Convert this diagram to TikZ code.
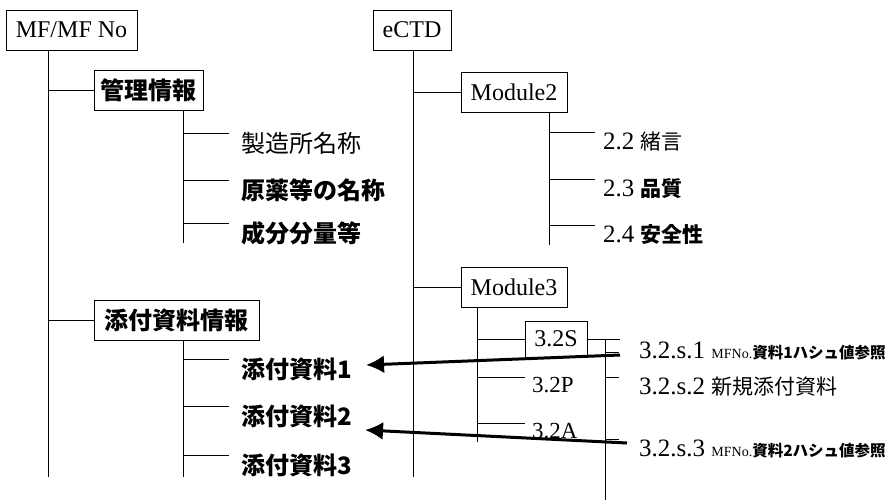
\documentclass[tikz,border=0pt]{standalone}
\usepackage{fontspec}
\setmainfont{Liberation Serif}
\newfontfamily\jp{Noto Sans CJK JP}
\usepackage{tikz}
\usetikzlibrary{arrows.meta}
\newcommand{\jpL}{\jp\fontsize{24}{26}\selectfont}
\newcommand{\jpR}{\jp\fontsize{21}{23}\selectfont}
\newcommand{\jpS}{\jp\fontsize{15.5}{17}\selectfont}
\tikzstyle{box} = [rectangle, minimum height=40pt, inner sep=0pt, text centered, draw=black, line width=0.9pt, font=\fontsize{24}{26}\selectfont]
\tikzstyle{itemL} = [anchor=west, inner sep=0pt, text height=18pt, text depth=4pt]
\tikzstyle{itemR} = [anchor=west, inner sep=0pt, text height=16pt, text depth=4pt, font=\fontsize{25}{27}\selectfont]
\tikzstyle{itemS} = [anchor=west, inner sep=0pt, text height=15pt, text depth=4pt, font=\fontsize{23}{25}\selectfont]
\tikzstyle{line} = [line width=0.9pt]
\tikzstyle{arrow} = [line width=3pt,-{Latex[length=18pt,width=18pt]}]

\begin{document}
\begin{tikzpicture}[x=1pt,y=-1pt]
							\useasboundingbox (0,0) rectangle (890,503);
							\node (mf) at (71.5,30) [box, minimum width=131pt] {MF/MF No};
							\node (kanri) at (148.5,90) [box, minimum width=109pt] {\jpL\bfseries 管理情報};
							\node (tenpu) at (176.5,320) [box, minimum width=165pt] {\jpL\bfseries 添付資料情報};
							\coordinate (mfend) at (48,477);
							\coordinate (kanriend) at (183,243);
							\coordinate (tenpuend) at (183,477);
							\node (k1) at (241,145) [itemL] {\jpL 製造所名称};
							\node (k2) at (241,192) [itemL] {\jpL\bfseries 原薬等の名称};
							\node (k3) at (241,235) [itemL] {\jpL\bfseries 成分分量等};
							\node (t1) at (241,371) [itemL] {\jpL\bfseries 添付資料1};
							\node (t2) at (241,418) [itemL] {\jpL\bfseries 添付資料2};
							\node (t3) at (241,467) [itemL] {\jpL\bfseries 添付資料3};
							\draw[line] (mfend |- mf.south) -- (mfend);
							\draw[line] (mfend |- kanri.west) -- (kanri.west);
							\draw[line] (mfend |- tenpu.west) -- (tenpu.west);
							\draw[line] (kanriend |- kanri.south) -- (kanriend);
							\draw[line] (tenpuend |- tenpu.south) -- (tenpuend);
							\foreach \n in {k1,k2,k3} \draw[line] (kanriend |- \n.north west) -- ([xshift=-12pt]\n.north west);
							\foreach \n in {t1,t2,t3} \draw[line] (tenpuend |- \n.north west) -- ([xshift=-12pt]\n.north west);
							
							\node (ectd) at (412,30) [box, minimum width=78pt] {eCTD};
							\node (mod2) at (514,92) [box, minimum width=106pt] {Module2};
							\node (mod3) at (514,287.5) [box, minimum width=106pt] {Module3};
							\node (s32) at (556,339) [box, minimum width=62pt, minimum height=36pt] {3.2S};
							\coordinate (ectdend) at (413,477);
							\coordinate (mod2end) at (549,245);
							\coordinate (mod3end) at (477,442);
							\coordinate (s32end) at (605,500);
							\node (m1) at (603,143) [itemR] {2.2 {\jpR 緒言}};
							\node (m2) at (603,190) [itemR] {2.3 {\jpR\bfseries 品質}};
							\node (m3) at (603,236) [itemR] {2.4 {\jpR\bfseries 安全性}};
							\node (p32) at (532,387) [itemS] {3.2P};
							\node (a32) at (532,433) [itemS] {3.2A};
							\node (s1) at (639,352) [itemR] {3.2.s.1 {\fontsize{14}{15}\selectfont MFNo.}{\jpS\bfseries 資料1ハシュ値参照}};
							\node (s2) at (639,388) [itemR] {3.2.s.2 {\jpR 新規添付資料}};
							\node (s3) at (639,450) [itemR] {3.2.s.3 {\fontsize{14}{15}\selectfont MFNo.}{\jpS\bfseries 資料2ハシュ値参照}};
							\coordinate (s1in) at ([xshift=-19pt]s1.west);
							\draw[line] (ectdend |- ectd.south) -- (ectdend);
							\draw[line] (ectdend |- mod2.west) -- (mod2.west);
							\draw[line] (ectdend |- mod3.west) -- (mod3.west);
							\draw[line] (mod2end |- mod2.south) -- (mod2end);
							\foreach \n in {m1,m2,m3} \draw[line] (mod2end |- \n.north west) -- ([xshift=-8pt]\n.north west);
							\draw[line] (mod3end |- mod3.south) -- (mod3end);
							\draw[line] (mod3end |- s32.west) -- (s32.west);
							\foreach \n in {p32,a32} \draw[line] (mod3end |- \n.north west) -- ([xshift=-7pt]\n.north west);
							\draw[line] (s32.east) -- (s1in |- s32.east);
							\draw[line] (s32end |- s32.east) -- (s32end);
							\draw[line] (s32end |- s1.west) -- ([xshift=-20pt]s1.west);
							\foreach \n in {s2,s3} \draw[line] (s32end |- \n.north west) -- ([xshift=-20pt]\n.north west);
							
							\coordinate (a1) at (620,355);
							\coordinate (a2) at (627,443);
							\draw[arrow] (a1) -- ([xshift=14pt,yshift=6pt]t1.east);
							\draw[arrow] (a2) -- ([xshift=13pt,yshift=-12pt]t2.east);
						\end{tikzpicture}
\end{document}
